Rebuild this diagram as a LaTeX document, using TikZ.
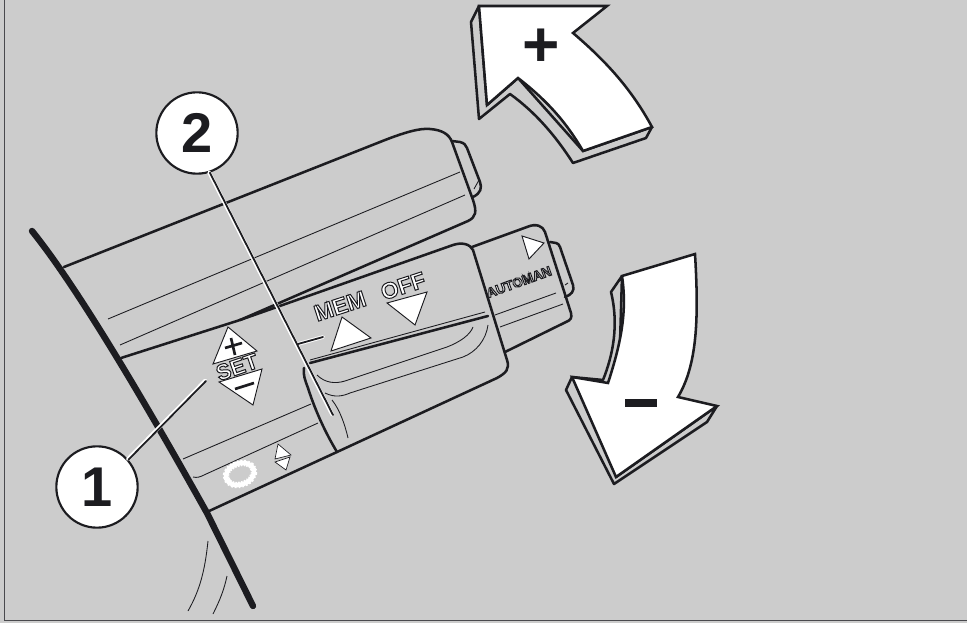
\documentclass[tikz,border=0pt]{standalone}
\usepackage{fontspec}
\setmainfont{Liberation Sans}
\usetikzlibrary{positioning, calc}
\definecolor{panelgray}{RGB}{204, 204, 204}
\definecolor{inkblack}{RGB}{28, 28, 32}
\tikzset{
  px/.style={x=0.75pt, y=-0.75pt},
  thickline/.style={draw=inkblack, line width=1.9pt, line cap=round, line join=round},
  thinline/.style={draw=inkblack, line width=0.65pt},
  wallline/.style={draw=inkblack, line width=4.8pt, line cap=round},
  arrowface/.style={draw=inkblack, fill=white, line width=1.9pt, line join=miter},
  arrowside/.style={draw=inkblack, fill=panelgray, line width=1.9pt, line join=round},
  marksign/.style={draw=inkblack, fill=white, line width=0.7pt, line join=miter},
  signstroke/.style={draw=inkblack, line width=2pt},
  callout/.style={circle, draw=inkblack, fill=white, line width=1.6pt, minimum size=61pt, inner sep=0pt, font=\fontsize{42}{42}\selectfont\bfseries, text=inkblack},
  leaderhalo/.style={draw=white, line width=2.8pt, line cap=round},
  leaderline/.style={draw=inkblack, line width=1.35pt, line cap=round}
}
\newcommand{\hollowtext}[6]{% name, x, y, angle, size, text
  \node[inner sep=0pt, rotate=#4, text=white] (#1) at (#2,#3) {\fontsize{#5}{#5}\selectfont\bfseries\special{pdf:literal q 2 Tr 0.75 w 0.11 0.11 0.125 RG}#6\special{pdf:literal Q}};
}
\begin{document}
\begin{tikzpicture}[px]
    \useasboundingbox (0,0) rectangle (967,623);
    % Panel
    \fill[panelgray] (0,0) rectangle (967,623);
    \draw[draw=inkblack!80, line width=0.9pt] (4.5,-2) -- (4.5,620.5) -- (969,620.5);

    % Upper stalk
    \draw[thickline] (64,267) -- (380,142) .. controls (405,132) and (420,128) .. (430,129) .. controls (442,130) and (449,134) .. (452,142) -- (473,200) .. controls (477,212) and (476,217) .. (468,221) -- (240,320);
    \draw[thickline] (452,141) -- (460,142) .. controls (464,143) and (466,145) .. (467,148) -- (480,182) .. controls (482,188) and (481,193) .. (473,197);
    \draw[thinline] (479,180) -- (474,189);
    \draw[thickline] (121,358) -- (240,320);
    \draw[thinline] (108,319) -- (460,172);
    \draw[thinline] (120,345) -- (465,195);

    % Lower stalk, outer ring
    \draw[thickline] (472,247) -- (527,227) .. controls (536,223) and (543,226) .. (545,232) -- (571,313) .. controls (572,318) and (571,320) .. (566,322) -- (505,352);
    \draw[thickline] (550,242) -- (556,243) .. controls (558,243) and (559,245) .. (560,247) -- (573,285) .. controls (575,291) and (571,295) .. (565,297);
    \draw[thinline] (568,283) -- (565,285);
    \draw[thinline] (495,315) -- (556,293);
    \draw[thinline] (500,327) -- (563,304);

    % Middle ring
    \draw[thickline] (240,320) -- (453,245) .. controls (462,242) and (470,244) .. (473,250) -- (507,360) .. controls (510,369) and (506,373) .. (497,378) -- (337,452) -- (207,512);
    \draw[thickline] (304,368) .. controls (303,375) and (305,380) .. (308,388) .. controls (315,410) and (325,432) .. (337,452);
    \draw[thickline] (310,363) -- (488,316);
    \draw[thinline] (310,360) -- (485,312);
    \draw[thinline] (317,375) .. controls (325,383) and (335,384) .. (345,381) -- (447,347) .. controls (460,342) and (470,335) .. (473,327);
    \draw[thinline] (325,393) .. controls (335,398) and (343,396) .. (350,393) -- (463,357) .. controls (476,352) and (486,340) .. (488,325);
    \draw[thinline] (332,400) .. controls (340,410) and (345,425) .. (348,438);
    \draw[thinline] (183,459) -- (311,404);
    \draw[thinline] (193,477) .. controls (197,478) and (200,477) .. (204,475) -- (318,423);

    % Wall
    \draw[wallline] (32,231) .. controls (70,278) and (130,375) .. (207,513) -- (253,606);
    \draw[thinline] (208,541) .. controls (205,570) and (200,590) .. (188,611);
    \draw[thinline] (227,576) .. controls (224,590) and (220,600) .. (213,614);

    % Signs on the stalk
    \draw[marksign] (228,327) -- (257,351) -- (213,364) -- cycle;
    \draw[marksign] (219,382) -- (262,369) -- (253,405) -- cycle;
    \draw[signstroke] (225,348) -- (242,343) (231,338) -- (235,355);
    \draw[signstroke] (235,389) -- (254,383);
    \draw[marksign] (342,317) -- (371,338) -- (331,351) -- cycle;
    \draw[marksign] (387,303) -- (427,292) -- (415,325) -- cycle;
    \draw[marksign] (522,236) -- (544,243) -- (529,259) -- cycle;
    \draw[marksign, line width=0.5pt] (278,444) -- (291,455) -- (275,459) -- cycle;
    \draw[marksign, line width=0.5pt] (275,462) -- (290,457) -- (286,470) -- cycle;

    % Knurled ring
    \draw[white, line width=3.4pt] (240,474) ellipse [x radius=14.5, y radius=10.5, rotate=20];
    \draw[white, line width=4.8pt, dash pattern=on 1.2pt off 1.3pt] (240,474) ellipse [x radius=14.5, y radius=10.5, rotate=20];

    % Lettering
    \hollowtext{setlabel}{237}{367}{19}{16.5}{SET}
    \hollowtext{memlabel}{340}{306}{18}{17}{MEM}
    \hollowtext{offlabel}{403}{286}{18}{17}{OFF}
    \hollowtext{autolabel}{519}{282}{20}{10}{AUTOMAN}

    % Plus arrow
    \draw[arrowside] (479,6) -- (471,22) -- (479,119) -- (510,94) .. controls (535,112) and (555,135) .. (573,163) -- (646,138) -- (652,127) -- (583,151) -- (518,78) -- (487,105) -- cycle;
    \draw[arrowface] (479,6) -- (607,6) -- (573,33) .. controls (607,62) and (632,90) .. (652,127) -- (583,151) .. controls (565,120) and (545,99) .. (518,78) -- (487,105) -- cycle;
    \node[inner sep=0pt, font=\fontsize{48}{48}\selectfont\bfseries, text=inkblack] (plussign) at (541,48) {+};

    % Minus arrow
    \draw[arrowside] (622,276) -- (611,292) .. controls (619,325) and (613,355) .. (603,380) -- (572,377) -- (566,390) -- (614,484) -- (707,422) -- (717,406) -- (616,477) -- cycle;
    \draw[arrowface] (622,276) -- (695,254) .. controls (699,320) and (697,365) .. (678,397) -- (717,406) -- (616,477) -- (572,377) -- (608,383) .. controls (622,340) and (627,310) .. (622,276) -- cycle;
    \node[inner sep=0pt, fill=inkblack, minimum width=24.5pt, minimum height=5.6pt] (minussign) at (641,403) {};

    % Callouts
    \node[callout] (numone) at (97,487) {1};
    \node[callout] (numtwo) at (197,133) {2};
    \coordinate (oneend) at (206,381);
    \coordinate (twoend) at (333,415);
    \coordinate (twotab) at (323,337);
    \coordinate (twofork) at (298,344);
    \draw[leaderhalo] ($(numone.41)+(-0.7,-0.5)$) -- ($(oneend)+(-0.7,-0.5)$);
    \draw[leaderline] (numone.41) -- (oneend);
    \draw[leaderhalo] ($(numtwo.-72)+(-0.8,-0.3)$) -- ($(twoend)+(-0.8,-0.3)$);
    \draw[leaderhalo] (twofork) -- (twotab);
    \draw[leaderline] (numtwo.-72) -- (twoend);
    \draw[leaderline] (twofork) -- (twotab);
\end{tikzpicture}
\end{document}
